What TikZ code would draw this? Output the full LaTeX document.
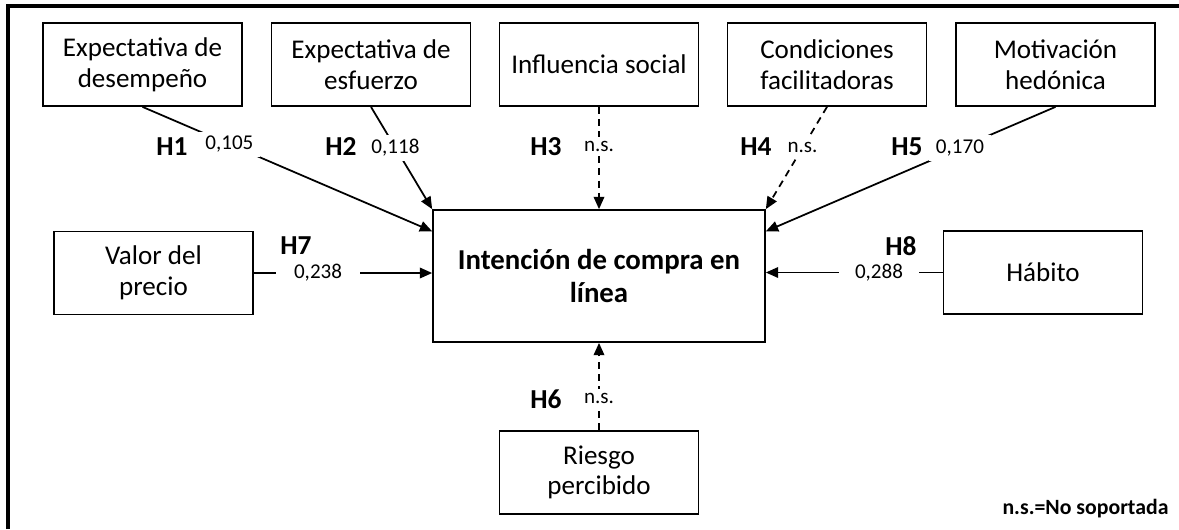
\documentclass[tikz,border=0pt]{standalone}
\usepackage{fontspec}
\setmainfont{Carlito}
\usetikzlibrary{arrows.meta}

\begin{document}
\begin{tikzpicture}[x=0.02cm, y=-0.02cm,
    caja/.style={draw, line width=1pt, minimum width=3.98cm, minimum height=1.66cm, inner sep=0pt, align=center, font=\fontsize{15.4}{17.4}\selectfont},
    cajagrande/.style={caja, minimum width=6.64cm, minimum height=2.64cm, font=\fontsize{16.4}{18.8}\selectfont\bfseries},
    hip/.style={font=\fontsize{15.6}{18}\selectfont\bfseries},
    coef/.style={fill=white, inner xsep=4pt, inner ysep=2.5pt, font=\fontsize{12}{14}\selectfont},
    flecha/.style={line width=1pt, -{Triangle[length=7pt, width=6pt]}},
    nosop/.style={flecha, dash pattern=on 4pt off 3pt}]
        \useasboundingbox (0,0) rectangle (1179,529);
        \draw[line width=1.8pt] (8,529) -- (8,6) -- (1179,6);

        \node[caja] (desempeno) at (142.5,64.5) {Expectativa de\\desempeño};
        \node[caja] (esfuerzo) at (371,64.5) {Expectativa de\\esfuerzo};
        \node[caja] (social) at (599,64.5) {Influencia social};
        \node[caja] (condiciones) at (827,64.5) {Condiciones\\facilitadoras};
        \node[caja] (hedonica) at (1055.5,64.5) {Motivación\\hedónica};
        \node[caja] (precio) at (153.5,273) {Valor del\\precio};
        \node[caja] (habito) at (1043,272.5) {Hábito};
        \node[caja] (riesgo) at (599,472.5) {Riesgo\\percibido};
        \node[cajagrande] (intencion) at (599,276) {Intención de compra en\\línea};

        \draw[flecha] (desempeno.south) -- (intencion.165) node[coef, pos=0.3]{0,105};
        \draw[flecha] (esfuerzo.south) -- (intencion.north west) node[coef, pos=0.4]{0,118};
        \draw[nosop] (social.south) -- (intencion.north) node[coef, pos=0.39]{n.s.};
        \draw[nosop] (condiciones.south) -- (intencion.north east) node[coef, pos=0.4]{n.s.};
        \draw[flecha] (hedonica.south) -- (intencion.15) node[coef, pos=0.33]{0,170};
        \draw[flecha] (precio.east) -- (precio.east -| intencion.west) node[coef, pos=0.36, inner xsep=10pt]{0,238};
        \draw[flecha] (habito.west) -- (habito.west -| intencion.east) node[coef, pos=0.36, inner xsep=9pt]{0,288};
        \draw[nosop] (riesgo.north) -- (intencion.south) node[coef, pos=0.36]{n.s.};

        \node[hip] (h1) at (172,147) {H1};
        \node[hip] (h2) at (341,147) {H2};
        \node[hip] (h3) at (546,147) {H3};
        \node[hip] (h4) at (756,147) {H4};
        \node[hip] (h5) at (907,147) {H5};
        \node[hip] (h6) at (546,399) {H6};
        \node[hip] (h7) at (296,246) {H7};
        \node[hip] (h8) at (901,246) {H8};

        \node[font=\fontsize{12.4}{14}\selectfont\bfseries] (nota) at (1085.5,509) {n.s.=No soportada};
\end{tikzpicture}
\end{document}
